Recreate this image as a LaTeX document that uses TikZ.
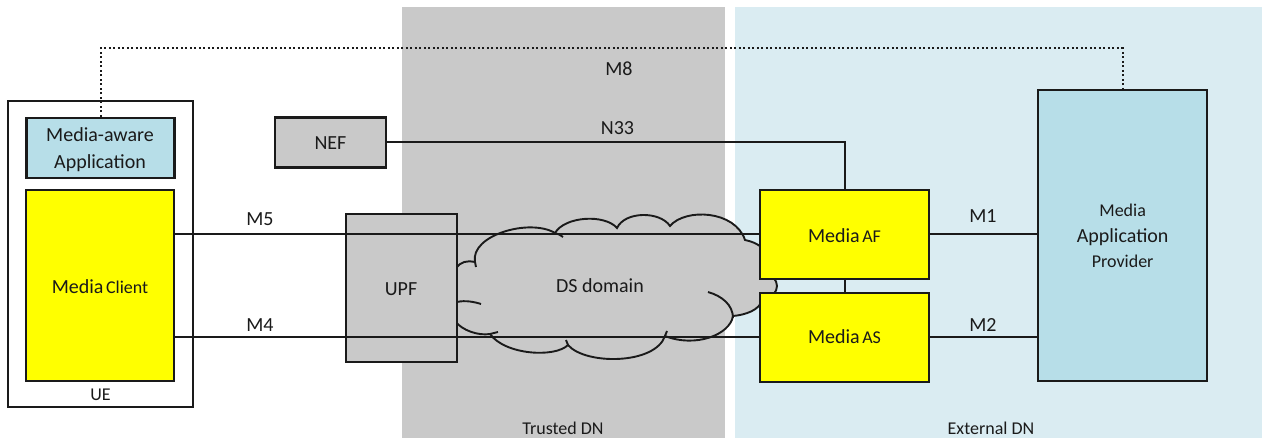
\documentclass[tikz,border=0pt]{standalone}
\usepackage{fontspec}
\setmainfont{Carlito}
\definecolor{trustgray}{HTML}{C9C9C9}
\definecolor{extblue}{HTML}{DAECF2}
\definecolor{appblue}{HTML}{B7DEE8}
\definecolor{ink}{HTML}{1A1A1A}
\definecolor{yel}{HTML}{FFFF00}
\begin{document}
\begin{tikzpicture}[x=1pt,y=-1pt,
  box/.style={draw=ink, line width=2.2pt, inner sep=0pt, rectangle},
  conn/.style={draw=ink, line width=2pt},
  dotline/.style={draw=ink, line width=2pt, dash pattern=on 2pt off 2.5pt},
  lbl/.style={anchor=base, inner sep=0pt, text=ink, font=\fontsize{20}{24}\selectfont},
  sml/.style={anchor=base, inner sep=0pt, text=ink, font=\fontsize{18}{22}\selectfont},
  cloudline/.style={draw=ink, line width=1.9pt},
]
\useasboundingbox (0,0) rectangle (1262,438);
% domains
\fill[trustgray] (402,7) rectangle (725,438);
\fill[extblue] (735,7) rectangle (1262,438);
\node[sml] (trusted) at (563,435) {Trusted DN};
\node[sml] (external) at (991,435) {External DN};

% cloud
\path[cloudline, fill=trustgray] (456,322) -- (456,268)
 .. controls (460,262) and (468,260) .. (475,262)
 .. controls (470,235) and (530,218) .. (555,233)
 .. controls (565,216) and (605,214) .. (617,228)
 .. controls (625,211) and (660,211) .. (670,226)
 .. controls (685,208) and (735,210) .. (745,240)
 .. controls (770,245) and (775,265) .. (762,272)
 .. controls (782,276) and (782,296) .. (762,300)
 .. controls (760,310) and (745,315) .. (733,316)
 .. controls (730,335) and (695,348) .. (665,336)
 .. controls (655,365) and (585,365) .. (568,345)
 .. controls (555,358) and (505,355) .. (490,334)
 .. controls (478,336) and (462,330) .. (456,322) -- cycle;
\draw[cloudline] (733,318) .. controls (733,305) and (722,296) .. (708,292);
\draw[cloudline] (457,302) .. controls (465,300) and (475,302) .. (481,304);
\draw[cloudline] (555,233) .. controls (558,234) and (561,235) .. (563,237);
\draw[cloudline] (490,334) -- (498,332);
\draw[cloudline] (665,336) -- (667,331);
\draw[cloudline] (568,345) -- (566,340);
\draw[cloudline] (475,262) -- (476,267);
\node[lbl] (ds) at (600,292.3) {DS domain};

% boxes
\node[box, minimum width=185pt, minimum height=306pt] (ue) at (100.5,254) {};
\node[box, fill=appblue, minimum width=148pt, minimum height=60pt] (maa) at (100.5,147.7) {};
\node[box, fill=yel, minimum width=148pt, minimum height=190.7pt] (mc) at (100,285.35) {};
\node[box, fill=trustgray, minimum width=111pt, minimum height=50pt] (nef) at (330.5,142.5) {};
\node[box, fill=trustgray, minimum width=110.7pt, minimum height=147.4pt] (upf) at (401.35,288) {};
\node[box, fill=yel, minimum width=169pt, minimum height=88.6pt] (af) at (844.5,234.5) {};
\node[box, fill=yel, minimum width=169pt, minimum height=88.4pt] (as) at (844.5,337.5) {};
\node[box, fill=appblue, minimum width=168.7pt, minimum height=290.7pt] (map) at (1122.5,235.35) {};

% connectors
\coordinate (m8y) at (0,48.5);
\draw[dotline] (maa.north) -- (maa.north |- m8y) -| (map.north);
\draw[conn] (mc.east |- af.west) -- (af.west);
\draw[conn] (mc.east |- as.west) -- (as.west);
\draw[conn] (nef.east) -| (af.north);
\draw[conn] (af.south) -- (as.north);
\draw[conn] (af.east) -- (map.west |- af.east);
\draw[conn] (as.east) -- (map.west |- as.east);

% texts
\node[lbl] (maat1) at (100,141.7) {Media-aware};
\node[lbl] (maat2) at (100,169) {Application};
\node[lbl] (mct) at (100,293.3) {Media\hspace{2.5pt}{\fontsize{18}{22}\selectfont Client}};
\node[sml] (uet) at (100.5,400.7) {UE};
\node[lbl] (neft) at (330.5,150) {NEF};
\node[lbl] (upft) at (401,295.7) {UPF};
\node[lbl] (aft) at (844.5,242.3) {Media\hspace{2.5pt}{\fontsize{18}{22}\selectfont AF}};
\node[lbl] (ast) at (844.5,344) {Media\hspace{2.5pt}{\fontsize{18}{22}\selectfont AS}};
\node[sml] (mapt1) at (1122.65,216.7) {Media};
\node[lbl] (mapt2) at (1122.65,242.7) {Application};
\node[sml] (mapt3) at (1122.65,268) {Provider};
\node[lbl] (m5) at (260,226) {M5};
\node[lbl] (m4) at (260,332) {M4};
\node[lbl] (m1) at (983,223) {M1};
\node[lbl] (m2) at (983,332) {M2};
\node[lbl] (n33) at (617.5,135) {N33};
\node[lbl] (m8) at (619,75.7) {M8};
\end{tikzpicture}
\end{document}
